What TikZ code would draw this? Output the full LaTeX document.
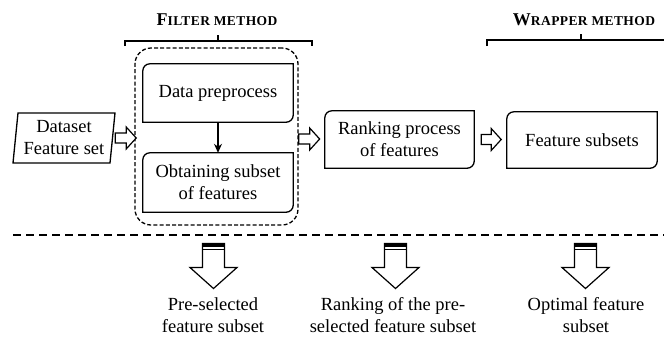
\documentclass[tikz,border=0pt]{standalone}
\usepackage{fontspec}
\setmainfont{Liberation Serif}
\usetikzlibrary{arrows.meta,calc}
\newcommand\fakesc[2]{{\bfseries\fontsize{18}{20}\selectfont #1}{\bfseries\addfontfeature{LetterSpace=3}\fontsize{13.5}{15}\selectfont #2}}
% box with rounded top-left and bottom-right corners
\newcommand\tlbrbox[1]{\draw[boxline] (#1.south west) -- ([yshift=-7pt]#1.north west) arc[start angle=180,end angle=90,radius=7pt] -- (#1.north east) -- ([yshift=7pt]#1.south east) arc[start angle=0,end angle=-90,radius=7pt] -- cycle;}
% hollow right arrow: start point, total length
\newcommand\hollowright[2]{\draw[hollow] (#1) ++(0,5) -- ++({#2-10},0) -- ++(0,6) -- ++(10,-11) -- ++(-10,-11) -- ++(0,6) -- ++({-(#2-10)},0) -- cycle;}
% hollow down arrow with capped top
\newcommand\hollowdown[1]{%
  \draw[hollow] (#1) ++(-11,0) -- ++(0,-24) -- ++(-12.5,0) -- ++(23.5,-21) -- ++(23.5,21) -- ++(-12.5,0) -- ++(0,24) -- cycle;
  \fill (#1) ++(-11,0) rectangle ++(22,-3.5);
  \draw[line width=0.9pt] (#1) ++(-11,-5.6) -- ++(22,0);}
\tikzset{
  txt/.style={font=\fontsize{18.5}{22}\selectfont, align=center, inner sep=0pt},
  boxline/.style={line width=1.3pt},
  boxnode/.style={txt, minimum width=150pt, draw=none},
  hollow/.style={line width=1.2pt, fill=white, line join=miter},
  bracket/.style={line width=1.2pt},
}
\begin{document}
\begin{tikzpicture}[x=1pt,y=1pt]
\useasboundingbox (0,0) rectangle (664,-338);

% titles and brackets
\node[inner sep=0pt] (ft) at (217,-20) {\fakesc{F}{ILTER METHOD}};
\node[inner sep=0pt] (wt) at (584,-20) {\fakesc{W}{RAPPER METHOD}};
\draw[bracket] (125,-46) -- (125,-41) -- (312,-41) -- (312,-46);
\draw[bracket] (218,-41) -- (218,-35);
\draw[bracket] (487,-46) -- (487,-40) -- (670,-40);
\draw[bracket] (581,-40) -- (581,-34);

% dashed filter box
\node[draw, line width=1.3pt, dash pattern=on 4pt off 2.2pt, rounded corners=16pt,
      minimum width=163pt, minimum height=177pt, inner sep=0pt] (filt) at (216.5,-136.5) {};

% dataset parallelogram
\node[txt, minimum width=97pt, minimum height=50pt] (ds) at (64,-138) {Dataset\\Feature set};
\draw[boxline] (13,-163) -- (18,-113) -- (115,-113) -- (110,-163) -- cycle;

% boxes
\node[boxnode, minimum height=58pt] (dp) at (218,-93) {Data preprocess};
\tlbrbox{dp}
\node[boxnode, minimum height=59pt] (obt) at (218,-182.5) {Obtaining subset\\of features};
\tlbrbox{obt}
\node[boxnode, minimum width=149pt, minimum height=57pt] (rank) at (399.5,-139.5) {Ranking process\\of features};
\tlbrbox{rank}
\node[boxnode, minimum height=56pt] (fs) at (582,-140) {Feature subsets};
\tlbrbox{fs}

\draw[line width=1.2pt, -{Stealth[length=9pt,width=8pt]}] (dp.south) -- (obt.north);

% hollow right arrows
\coordinate (a1) at ([xshift=2.5pt]ds.east);
\hollowright{a1}{21}
\coordinate (a2) at (filt.east |- 0,-139);
\hollowright{a2}{21}
\coordinate (a3) at ([xshift=7pt]rank.east);
\hollowright{a3}{20}

% dashed separator
\draw[line width=1.3pt, dash pattern=on 8pt off 5pt] (13,-235) -- (668,-235);

% down arrows
\coordinate (d1) at (213.5,-243.5);
\coordinate (d2) at (395.5,-243.5);
\coordinate (d3) at (585.5,-243.5);
\hollowdown{d1}
\hollowdown{d2}
\hollowdown{d3}

% labels
\node[txt] (l1) at (213,-315) {Pre-selected\\feature subset};
\node[txt] (l2) at (393,-315) {Ranking of the pre-\\selected feature subset};
\node[txt] (l3) at (586,-315) {Optimal feature\\subset};
\end{tikzpicture}
\end{document}
